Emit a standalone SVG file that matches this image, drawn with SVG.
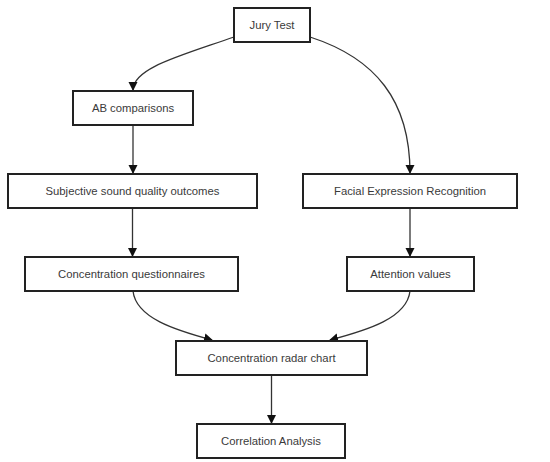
<svg xmlns="http://www.w3.org/2000/svg" width="550" height="462" viewBox="0 0 550 462">
<style>
.box{fill:#fff;stroke:#222;stroke-width:2}
.lbl{font-family:"Liberation Sans",Arial,sans-serif;font-size:11.3px;fill:#3a3a3a;text-anchor:middle;dominant-baseline:central}
.edge{fill:none;stroke:#333;stroke-width:1.3;marker-end:url(#arr)}
</style>
<defs>
<marker id="arr" markerWidth="10" markerHeight="10" refX="8" refY="5" orient="auto" markerUnits="userSpaceOnUse" viewBox="0 0 10 10">
<path d="M0,0.5 L9,5 L0,9.5 Z" fill="#111"/>
</marker>
</defs>
<rect width="550" height="462" fill="#fff"/>
<g id="connectors">
<path class="edge" d="M234,37 C180,56 133,68 133,90"/>
<path class="edge" d="M310,37 C375,58 410,100 410,173"/>
<path class="edge" d="M133,125 L133,173"/>
<path class="edge" d="M132.5,208 L132.5,256"/>
<path class="edge" d="M410,208 L410,256"/>
<path class="edge" d="M133,291 C136,318 175,330 212,340"/>
<path class="edge" d="M410,291 C407,318 368,330 330,340"/>
<path class="edge" d="M271.5,375 L271.5,423"/>
</g>
<g id="jury"><rect class="box" x="234" y="8" width="76" height="34"/><text class="lbl" x="272" y="25">Jury Test</text></g>
<g id="ab"><rect class="box" x="73" y="91" width="120" height="34"/><text class="lbl" x="133" y="108">AB comparisons</text></g>
<g id="subjective"><rect class="box" x="8" y="174" width="249" height="34"/><text class="lbl" x="132.5" y="191">Subjective sound quality outcomes</text></g>
<g id="facial"><rect class="box" x="303" y="174" width="214" height="34"/><text class="lbl" x="410" y="191">Facial Expression Recognition</text></g>
<g id="questionnaires"><rect class="box" x="25" y="257" width="213" height="34"/><text class="lbl" x="131.5" y="274">Concentration questionnaires</text></g>
<g id="attention"><rect class="box" x="347" y="257" width="127" height="34"/><text class="lbl" x="410.5" y="274">Attention values</text></g>
<g id="radar"><rect class="box" x="176" y="341" width="191" height="34"/><text class="lbl" x="271.5" y="358">Concentration radar chart</text></g>
<g id="correlation"><rect class="box" x="197" y="424" width="148" height="34"/><text class="lbl" x="271" y="441">Correlation Analysis</text></g>
</svg>
